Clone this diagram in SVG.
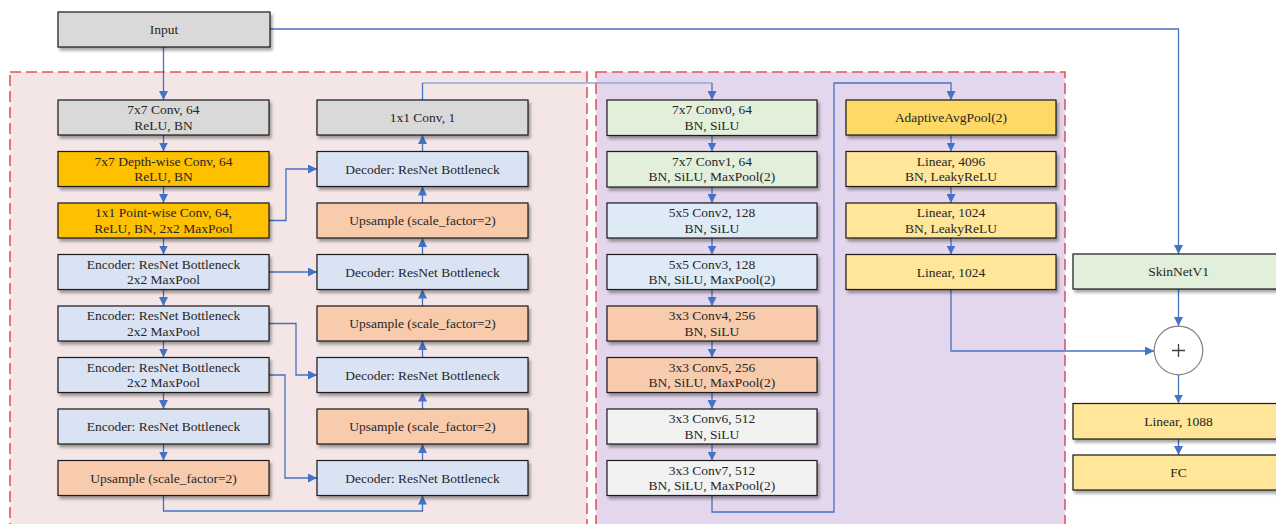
<svg xmlns="http://www.w3.org/2000/svg" width="1276" height="524" viewBox="0 0 1276 524">
  <defs>
    <filter id="shadow" x="-10%" y="-20%" width="130%" height="160%">
      <feDropShadow dx="2" dy="3" stdDeviation="1.6" flood-color="#000" flood-opacity="0.35"/>
    </filter>
    <marker id="arrow" viewBox="0 0 10 10" refX="10" refY="5" markerWidth="9" markerHeight="9" markerUnits="userSpaceOnUse" orient="auto">
      <path d="M0,0 L10,5 L0,10 z" fill="#4472c4"/>
    </marker>
    <style>
      .box { stroke: #1a1a1a; stroke-width: 1.2; filter: url(#shadow); }
      .gray { fill: #d9d9d9; }
      .gold { fill: #ffc000; }
      .blue { fill: #dae3f3; }
      .peach { fill: #f8cbad; }
      .green { fill: #e2efda; }
      .sky { fill: #deebf7; }
      .white { fill: #f2f2f2; }
      .amber { fill: #ffd966; }
      .yellow { fill: #ffe699; }
      text { font-family: "Liberation Serif", "Times New Roman", serif; font-size: 13.5px; fill: #262626; text-anchor: middle; }
      .wire { fill: none; stroke: #4472c4; stroke-width: 1.3; }
      .pale { fill: none; stroke: #8eaadb; stroke-width: 1.6; }
      .arr { marker-end: url(#arrow); }
      .frame { stroke: #e0575b; stroke-width: 1.6; stroke-dasharray: 11 5; }
    </style>
  </defs>

  <!-- dashed sub-network frames -->
  <rect id="frame-unet" class="frame" x="10" y="72" width="577" height="470" fill="#f4e6e6"/>
  <rect id="frame-cnn" class="frame" x="596" y="72" width="469" height="470" fill="#e4d6ec"/>

  <!-- connectors -->
  <g id="connectors">
    <!-- encoder path (down) -->
    <path class="wire arr" d="M163.5 47 V100"/>
    <path class="wire arr" d="M163.5 135 V151.5"/>
    <path class="wire arr" d="M163.5 186.5 V203"/>
    <path class="wire arr" d="M163.5 238 V254.5"/>
    <path class="wire arr" d="M163.5 289.5 V306"/>
    <path class="wire arr" d="M163.5 341 V357.5"/>
    <path class="wire arr" d="M163.5 392.5 V409"/>
    <path class="wire arr" d="M163.5 444 V460.5"/>
    <!-- decoder path (up) -->
    <path class="wire arr" d="M422.5 151.5 V135"/>
    <path class="wire arr" d="M422.5 203 V186.5"/>
    <path class="wire arr" d="M422.5 254.5 V238"/>
    <path class="wire arr" d="M422.5 306 V289.5"/>
    <path class="wire arr" d="M422.5 357.5 V341"/>
    <path class="wire arr" d="M422.5 409 V392.5"/>
    <path class="wire arr" d="M422.5 460.5 V444"/>
    <path class="wire arr" d="M163.5 495.5 V511 H422.5 V495.5"/>
    <!-- skip connections -->
    <path class="wire arr" d="M269 220.5 H286 V169 H317"/>
    <path class="wire arr" d="M269 272 H317"/>
    <path class="wire arr" d="M269 323.5 H296 V375 H317"/>
    <path class="wire arr" d="M269 375 H285 V478 H317"/>
    <!-- mask output into the CNN branch -->
    <path class="pale" d="M422.5 83 H712"/>
    <path class="wire" d="M422.5 100 V83"/>
    <path class="wire arr" d="M712 83 V100"/>
    <!-- CNN backbone (down) -->
    <path class="wire arr" d="M712 135.5 V151.5"/>
    <path class="wire arr" d="M712 187 V203"/>
    <path class="wire arr" d="M712 238 V254.5"/>
    <path class="wire arr" d="M712 289.5 V306"/>
    <path class="wire arr" d="M712 341 V357.5"/>
    <path class="wire arr" d="M712 392.5 V409"/>
    <path class="wire arr" d="M712 444 V460.5"/>
    <path class="wire arr" d="M712 495.5 V512 H834 V83 H951 V100"/>
    <!-- classifier head -->
    <path class="wire arr" d="M951 135 V151.5"/>
    <path class="wire arr" d="M951 186.5 V203"/>
    <path class="wire arr" d="M951 238 V254.5"/>
    <path class="wire arr" d="M951 289.5 V351 H1154"/>
    <!-- input to SkinNetV1 and fusion -->
    <path class="wire arr" d="M270 29 H1178.5 V254"/>
    <path class="wire arr" d="M1178.5 289 V326"/>
    <path class="wire arr" d="M1178.5 374.5 V403.5"/>
    <path class="wire arr" d="M1178.5 439 V455"/>
  </g>

  <g id="input"><rect class="box gray" x="58" y="12" width="212" height="35"/><text x="164" y="33.5">Input</text></g>

  <!-- encoder column -->
  <g id="conv7x7"><rect class="box gray" x="58" y="100" width="211" height="35"/><text x="163.5" y="114.2">7x7 Conv, 64</text><text x="163.5" y="129.8">ReLU, BN</text></g>
  <g id="dwconv"><rect class="box gold" x="58" y="151.5" width="211" height="35"/><text x="163.5" y="165.7">7x7 Depth-wise Conv, 64</text><text x="163.5" y="181.3">ReLU, BN</text></g>
  <g id="pwconv"><rect class="box gold" x="58" y="203" width="211" height="35"/><text x="163.5" y="217.2">1x1 Point-wise Conv, 64,</text><text x="163.5" y="232.8">ReLU, BN, 2x2 MaxPool</text></g>
  <g id="enc1"><rect class="box blue" x="58" y="254.5" width="211" height="35"/><text x="163.5" y="268.7">Encoder: ResNet Bottleneck</text><text x="163.5" y="284.3">2x2 MaxPool</text></g>
  <g id="enc2"><rect class="box blue" x="58" y="306" width="211" height="35"/><text x="163.5" y="320.2">Encoder: ResNet Bottleneck</text><text x="163.5" y="335.8">2x2 MaxPool</text></g>
  <g id="enc3"><rect class="box blue" x="58" y="357.5" width="211" height="35"/><text x="163.5" y="371.7">Encoder: ResNet Bottleneck</text><text x="163.5" y="387.3">2x2 MaxPool</text></g>
  <g id="enc4"><rect class="box blue" x="58" y="409" width="211" height="35"/><text x="163.5" y="431">Encoder: ResNet Bottleneck</text></g>
  <g id="up0"><rect class="box peach" x="58" y="460.5" width="211" height="35"/><text x="163.5" y="482.5">Upsample (scale_factor=2)</text></g>

  <!-- decoder column -->
  <g id="conv1x1"><rect class="box gray" x="317" y="100" width="211" height="35"/><text x="422.5" y="122">1x1 Conv, 1</text></g>
  <g id="dec1"><rect class="box blue" x="317" y="151.5" width="211" height="35"/><text x="422.5" y="173.5">Decoder: ResNet Bottleneck</text></g>
  <g id="up1"><rect class="box peach" x="317" y="203" width="211" height="35"/><text x="422.5" y="225">Upsample (scale_factor=2)</text></g>
  <g id="dec2"><rect class="box blue" x="317" y="254.5" width="211" height="35"/><text x="422.5" y="276.5">Decoder: ResNet Bottleneck</text></g>
  <g id="up2"><rect class="box peach" x="317" y="306" width="211" height="35"/><text x="422.5" y="328">Upsample (scale_factor=2)</text></g>
  <g id="dec3"><rect class="box blue" x="317" y="357.5" width="211" height="35"/><text x="422.5" y="379.5">Decoder: ResNet Bottleneck</text></g>
  <g id="up3"><rect class="box peach" x="317" y="409" width="211" height="35"/><text x="422.5" y="431">Upsample (scale_factor=2)</text></g>
  <g id="dec4"><rect class="box blue" x="317" y="460.5" width="211" height="35"/><text x="422.5" y="482.5">Decoder: ResNet Bottleneck</text></g>

  <!-- CNN backbone -->
  <g id="conv0"><rect class="box green" x="607" y="100" width="210" height="35.5"/><text x="712" y="114.2">7x7 Conv0, 64</text><text x="712" y="129.8">BN, SiLU</text></g>
  <g id="conv1"><rect class="box green" x="607" y="151.5" width="210" height="35.5"/><text x="712" y="165.7">7x7 Conv1, 64</text><text x="712" y="181.3">BN, SiLU, MaxPool(2)</text></g>
  <g id="conv2"><rect class="box sky" x="607" y="203" width="210" height="35"/><text x="712" y="217.2">5x5 Conv2, 128</text><text x="712" y="232.8">BN, SiLU</text></g>
  <g id="conv3"><rect class="box sky" x="607" y="254.5" width="210" height="35"/><text x="712" y="268.7">5x5 Conv3, 128</text><text x="712" y="284.3">BN, SiLU, MaxPool(2)</text></g>
  <g id="conv4"><rect class="box peach" x="607" y="306" width="210" height="35"/><text x="712" y="320.2">3x3 Conv4, 256</text><text x="712" y="335.8">BN, SiLU</text></g>
  <g id="conv5"><rect class="box peach" x="607" y="357.5" width="210" height="35"/><text x="712" y="371.7">3x3 Conv5, 256</text><text x="712" y="387.3">BN, SiLU, MaxPool(2)</text></g>
  <g id="conv6"><rect class="box white" x="607" y="409" width="210" height="35"/><text x="712" y="423.2">3x3 Conv6, 512</text><text x="712" y="438.8">BN, SiLU</text></g>
  <g id="conv7"><rect class="box white" x="607" y="460.5" width="210" height="35"/><text x="712" y="474.7">3x3 Conv7, 512</text><text x="712" y="490.3">BN, SiLU, MaxPool(2)</text></g>

  <!-- classifier head -->
  <g id="avgpool"><rect class="box amber" x="846" y="100" width="210" height="35"/><text x="951" y="122">AdaptiveAvgPool(2)</text></g>
  <g id="fc4096"><rect class="box yellow" x="846" y="151.5" width="210" height="35"/><text x="951" y="165.7">Linear, 4096</text><text x="951" y="181.3">BN, LeakyReLU</text></g>
  <g id="fc1024a"><rect class="box yellow" x="846" y="203" width="210" height="35"/><text x="951" y="217.2">Linear, 1024</text><text x="951" y="232.8">BN, LeakyReLU</text></g>
  <g id="fc1024b"><rect class="box yellow" x="846" y="254.5" width="210" height="35"/><text x="951" y="276.5">Linear, 1024</text></g>

  <!-- fusion branch -->
  <g id="skinnet"><rect class="box green" x="1073" y="254" width="211" height="35"/><text x="1178.5" y="276">SkinNetV1</text></g>
  <g id="add"><circle cx="1178.5" cy="350.5" r="24.3" fill="#ffffff" stroke="#808080" stroke-width="1.2"/><path d="M1172 350.5 H1185 M1178.5 344 V357" stroke="#404040" stroke-width="1.3"/></g>
  <g id="fc1088"><rect class="box yellow" x="1073" y="403.5" width="211" height="35.5"/><text x="1178.5" y="425.5">Linear, 1088</text></g>
  <g id="fc"><rect class="box yellow" x="1073" y="455" width="211" height="35"/><text x="1178.5" y="477">FC</text></g>
</svg>
